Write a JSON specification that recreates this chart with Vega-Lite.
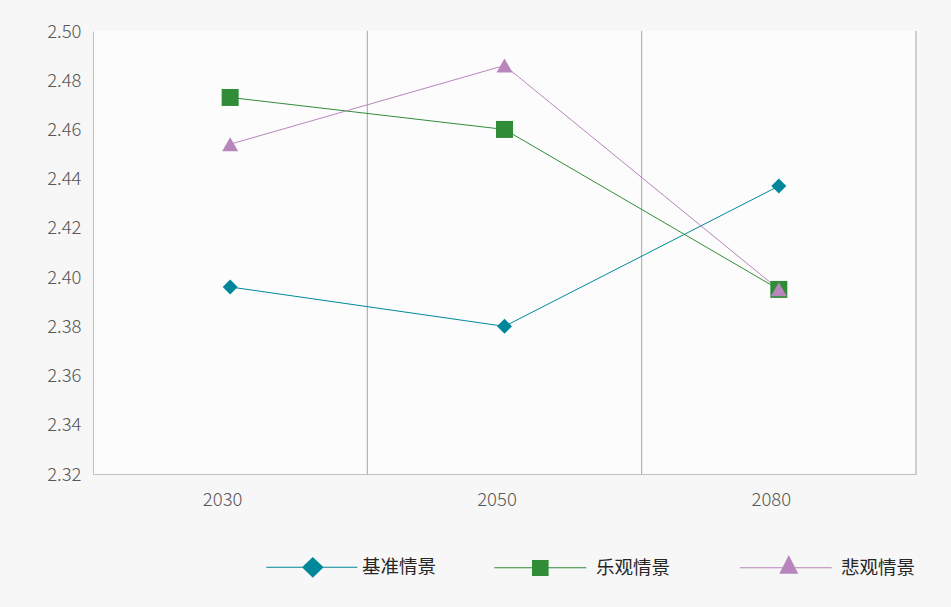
{
  "$schema": "https://vega.github.io/schema/vega-lite/v6.json",
  "width": 823,
  "height": 443,
  "autosize": {"type": "none"},
  "padding": {"left": 93, "top": 31, "right": 35, "bottom": 133},
  "background": "#f6f7f6",
  "config": {
    "view": {"stroke": null, "fill": "#fcfcfc"},
    "font": "Noto Sans CJK SC",
    "axis": {"labelFont": "Noto Sans CJK SC", "labelFontWeight": 300, "labelColor": "#595959", "labelFontSize": 18.5, "ticks": false, "grid": false, "domainColor": "#bfbfbf", "domainWidth": 1, "title": null}
  },
  "datasets": {
    "scen": [
      {"year": "2030", "series": "基准情景", "value": 2.396},
      {"year": "2050", "series": "基准情景", "value": 2.380},
      {"year": "2080", "series": "基准情景", "value": 2.437},
      {"year": "2030", "series": "乐观情景", "value": 2.473},
      {"year": "2050", "series": "乐观情景", "value": 2.460},
      {"year": "2080", "series": "乐观情景", "value": 2.395},
      {"year": "2030", "series": "悲观情景", "value": 2.454},
      {"year": "2050", "series": "悲观情景", "value": 2.486},
      {"year": "2080", "series": "悲观情景", "value": 2.395}
    ],
    "years": [{"year": "2030"}, {"year": "2050"}, {"year": "2080"}]
  },
  "layer": [
    {
      "data": {"name": "scen"},
      "transform": [{"filter": "false"}],
      "mark": {"type": "point", "filled": true, "opacity": 1},
      "encoding": {
        "x": {"field": "year", "type": "nominal", "bandPosition": 0.5,
              "scale": {"type": "band", "domain": ["2030", "2050", "2080"], "paddingInner": 0, "paddingOuter": 0},
              "axis": {"labelAngle": 0, "labelPadding": 16, "labelOffset": -7.5}},
        "y": {"field": "value", "type": "quantitative",
              "scale": {"domain": [2.32, 2.5], "nice": false, "zero": false},
              "axis": {"values": [2.32, 2.34, 2.36, 2.38, 2.4, 2.42, 2.44, 2.46, 2.48, 2.5], "format": ".2f", "labelPadding": 12}},
        "color": {"field": "series", "type": "nominal",
                  "scale": {"domain": ["基准情景", "乐观情景", "悲观情景"], "range": ["#00889a", "#318c37", "#b886bc"]},
                  "legend": {"title": null, "orient": "none", "direction": "horizontal", "legendX": 207, "legendY": 526,
                             "symbolSize": 400, "symbolStrokeWidth": 0, "labelOffset": 42, "columnPadding": 57,
                             "labelFont": "Noto Sans CJK SC", "labelFontSize": 18.5, "labelColor": "#262626", "symbolOpacity": 1}},
        "shape": {"field": "series", "type": "nominal",
                  "scale": {"domain": ["基准情景", "乐观情景", "悲观情景"],
                            "range": [
                              "M-4.37,-0.05H4.73V0.05H-4.37Z M0.28,-1.03L1.36,0L0.28,1.03L-0.8,0Z",
                              "M-4.97,-0.05H4.23V0.05H-4.97Z M-1.2,-0.77H0.46V0.83H-1.2Z",
                              "M-6.1,0 M-4.9,-0.05H4.27V0.05H-4.9Z M-0.02,-1.27L0.93,0.6L-0.97,0.6Z"
                            ]},
                  "legend": {"title": null, "orient": "none", "direction": "horizontal", "legendX": 207, "legendY": 526,
                             "symbolSize": 400, "symbolStrokeWidth": 0, "labelOffset": 42, "columnPadding": 57,
                             "labelFont": "Noto Sans CJK SC", "labelFontSize": 18.5, "labelColor": "#262626", "symbolOpacity": 1}}
      }
    },
    {
      "data": {"name": "years"},
      "mark": {"type": "rule", "color": "#a6a6a6", "strokeWidth": 1},
      "encoding": {
        "x": {"field": "year", "type": "nominal", "bandPosition": 1}
      }
    },
    {
      "data": {"name": "scen"},
      "mark": {"type": "line", "strokeWidth": 1},
      "encoding": {
        "x": {"field": "year", "type": "nominal", "bandPosition": 0.5},
        "y": {"field": "value", "type": "quantitative"},
        "color": {"field": "series", "type": "nominal", "legend": null}
      }
    },
    {
      "data": {"name": "scen"},
      "transform": [{"filter": "datum.series === '基准情景'"}],
      "mark": {"type": "point", "shape": "diamond", "filled": true, "opacity": 1, "size": 225, "color": "#00889a"},
      "encoding": {
        "x": {"field": "year", "type": "nominal", "bandPosition": 0.5},
        "y": {"field": "value", "type": "quantitative"}
      }
    },
    {
      "data": {"name": "scen"},
      "transform": [{"filter": "datum.series === '乐观情景'"}],
      "mark": {"type": "point", "shape": "square", "filled": true, "opacity": 1, "size": 289, "color": "#318c37"},
      "encoding": {
        "x": {"field": "year", "type": "nominal", "bandPosition": 0.5},
        "y": {"field": "value", "type": "quantitative"}
      }
    },
    {
      "data": {"name": "scen"},
      "transform": [{"filter": "datum.series === '悲观情景'"}],
      "mark": {"type": "point", "shape": "triangle-up", "filled": true, "opacity": 1, "size": 256, "color": "#b886bc"},
      "encoding": {
        "x": {"field": "year", "type": "nominal", "bandPosition": 0.5},
        "y": {"field": "value", "type": "quantitative"}
      }
    }
  ]
}
